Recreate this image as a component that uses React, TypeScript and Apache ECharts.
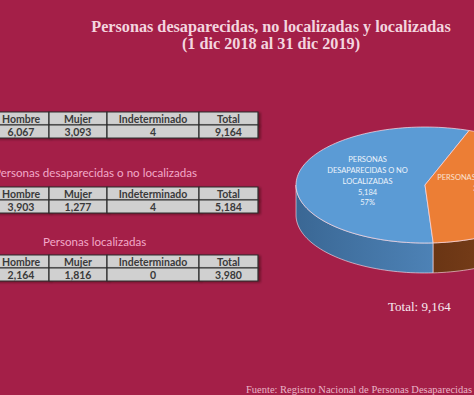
import React, { useEffect, useRef } from "react";
import * as echarts from "echarts";

// ---------- data ----------
const TITLE_LINES = [
  "Personas desaparecidas, no localizadas y localizadas",
  "(1 dic 2018 al 31 dic 2019)",
];
const TABLE_HEADERS = ["Hombre", "Mujer", "Indeterminado", "Total"];
const SECTION_TITLES = ["", "Personas desaparecidas o no localizadas", "Personas localizadas"];
const TOTAL_ROW = [6067, 3093, 4, 9164];
const NO_LOCALIZADAS_ROW = [3903, 1277, 4, 5184];
const LOCALIZADAS_ROW = [2164, 1816, 0, 3980];
const PIE_NAMES = ["PERSONAS\nDESAPARECIDAS O NO\nLOCALIZADAS", "PERSONAS LOCALIZADAS"];
const PIE_VALUES = [5184, 3980];
const SOURCE_TEXT = "Fuente: Registro Nacional de Personas Desaparecidas y No Localizadas";

// ---------- layout / style ----------
const BG = "#a41f48";
const COL_EDGES = [-7, 49, 107, 199, 258];
const TABLE_TOPS = [112, 187, 255];
const ROW_H = 13;
const SECTION_POS = [null, [-6, 172], [43, 241]];
const TITLE_Y = [27, 44];
const PIE_CX = 425;
const PIE_CY = 185;
const PIE_RX = 129;
const PIE_RY = 58;
const PIE_DEPTH = 30;
const PIE_START = 70;
const LABEL_R = 0.45;
const TOP_COLORS = ["#5b9bd5", "#ec7e35"];
const SIDE_COLORS = [
  ["#3a6794", "#4d82b6"],
  ["#6a3514", "#85461d"],
];
const LABEL_COLORS = ["#eef4fb", "#fbe2d0"];
const EDGE = "rgba(255,228,236,0.75)";

const fmt = (n: number) => n.toLocaleString("en-US");

export default function App() {
  const ref = useRef<HTMLDivElement>(null);

  useEffect(() => {
    if (!ref.current) return;
    const chart = echarts.init(ref.current, undefined, { renderer: "svg" });

    const tableRows = [TOTAL_ROW, NO_LOCALIZADAS_ROW, LOCALIZADAS_ROW];
    const tableData: any[] = [];
    tableRows.forEach((row, t) => {
      TABLE_HEADERS.forEach((h, c) => tableData.push({ value: [t, 0, c], name: h }));
      row.forEach((v, c) => tableData.push({ value: [t, 1, c], name: fmt(v) }));
    });

    const pieTotal = PIE_VALUES.reduce((a, b) => a + b, 0);
    const rad = (d: number) => (d * Math.PI) / 180;
    const pt = (deg: number, dy = 0) => [
      PIE_CX + PIE_RX * Math.cos(rad(deg)),
      PIE_CY - PIE_RY * Math.sin(rad(deg)) + dy,
    ];
    const arcPts = (a0: number, a1: number, dy = 0) => {
      const out: number[][] = [];
      const n = Math.max(8, Math.ceil((a1 - a0) / 2));
      for (let k = 0; k <= n; k++) out.push(pt(a0 + ((a1 - a0) * k) / n, dy));
      return out;
    };

    const pieData = PIE_VALUES.map((v, i) => ({ value: v, name: PIE_NAMES[i] }));

    const sectionGraphics: any[] = [];
    SECTION_TITLES.forEach((s, i) => {
      const p = SECTION_POS[i];
      if (!s || !p) return;
      sectionGraphics.push({
        type: "text",
        x: p[0],
        y: p[1],
        style: {
          text: s,
          font: "11.6px Lato",
          fill: "#f2a9c8",
          align: "left",
          verticalAlign: "middle",
        },
      });
    });

    const titleGraphics = TITLE_LINES.map((line, i) => ({
      type: "text",
      x: 271,
      y: TITLE_Y[i],
      style: {
        text: line,
        font: "bold 16.2px 'Liberation Serif'",
        fill: "#f3d5df",
        align: "center",
        verticalAlign: "middle",
      },
    }));

    chart.setOption({
      animation: false,
      backgroundColor: BG,
      graphic: [
        ...titleGraphics,
        ...sectionGraphics,
        {
          type: "text",
          x: 388,
          y: 306,
          style: {
            text: "Total: " + fmt(pieTotal),
            font: "13px 'Liberation Serif'",
            fill: "#f8eaef",
            align: "left",
            verticalAlign: "middle",
          },
        },
        {
          type: "text",
          x: 246,
          y: 389,
          style: {
            text: SOURCE_TEXT,
            font: "10.5px 'Liberation Serif'",
            fill: "#e9b5c7",
            align: "left",
            verticalAlign: "middle",
          },
        },
      ],
      series: [
        {
          type: "custom",
          coordinateSystem: "none",
          data: tableData,
          renderItem: (params: any, api: any) => {
            const t = api.value(0);
            const r = api.value(1);
            const c = api.value(2);
            const x0 = COL_EDGES[c];
            const x1 = COL_EDGES[c + 1];
            const y0 = TABLE_TOPS[t] + r * ROW_H;
            return {
              type: "group",
              children: [
                {
                  type: "rect",
                  shape: { x: x0, y: y0, width: x1 - x0, height: ROW_H },
                  style: {
                    fill: "#d0d0d0",
                    stroke: "#2e2e2e",
                    lineWidth: 1.2,
                    shadowColor: "rgba(40,0,15,0.45)",
                    shadowOffsetX: 2,
                    shadowOffsetY: 1,
                    shadowBlur: 2,
                  },
                },
                {
                  type: "text",
                  x: (x0 + x1) / 2,
                  y: y0 + ROW_H / 2 + 0.5,
                  style: {
                    text: tableData[params.dataIndex].name,
                    font: "bold 10.5px Lato",
                    fill: "#3a3a3a",
                    align: "center",
                    verticalAlign: "middle",
                  },
                },
              ],
            };
          },
        },
        {
          type: "custom",
          coordinateSystem: "none",
          data: pieData,
          renderItem: (params: any, api: any) => {
            const i = params.dataIndex;
            let before = 0;
            for (let j = 0; j < i; j++) before += PIE_VALUES[j];
            const v = api.value(0);
            const a0 = PIE_START + (before / pieTotal) * 360;
            const a1 = a0 + (v / pieTotal) * 360;
            const children: any[] = [];
            for (let k = -1; k <= 2; k++) {
              const lo = Math.max(a0, 180 + 360 * k);
              const hi = Math.min(a1, 360 + 360 * k);
              if (lo < hi) {
                const top = arcPts(lo, hi, 0);
                const bot = arcPts(lo, hi, PIE_DEPTH).reverse();
                children.push({
                  type: "polygon",
                  shape: { points: top.concat(bot) },
                  style: {
                    fill: new echarts.graphic.LinearGradient(0, 0, 1, 0, [
                      { offset: 0, color: SIDE_COLORS[i][0] },
                      { offset: 1, color: SIDE_COLORS[i][1] },
                    ]),
                    stroke: EDGE,
                    lineWidth: 0.8,
                  },
                });
              }
            }
            const pts = [[PIE_CX, PIE_CY]].concat(arcPts(a0, a1, 0));
            children.push({
              type: "polygon",
              shape: { points: pts },
              style: { fill: TOP_COLORS[i], stroke: EDGE, lineWidth: 0.9 },
            });
            const mid = (a0 + a1) / 2;
            const lx = PIE_CX + PIE_RX * LABEL_R * Math.cos(rad(mid));
            const ly = PIE_CY - PIE_RY * LABEL_R * Math.sin(rad(mid));
            const pct = Math.round((v / pieTotal) * 100) + "%";
            children.push({
              type: "text",
              x: lx,
              y: ly,
              style: {
                text: PIE_NAMES[i] + "\n" + fmt(v) + "\n" + pct,
                font: "7.5px Lato",
                lineHeight: 10.8,
                fill: LABEL_COLORS[i],
                align: "center",
                verticalAlign: "middle",
              },
            });
            return { type: "group", children };
          },
        },
      ],
    });

    return () => chart.dispose();
  }, []);

  return (
    <div
      ref={ref}
      style={{ position: "absolute", left: 0, top: 0, width: 474, height: 395 }}
    />
  );
}
